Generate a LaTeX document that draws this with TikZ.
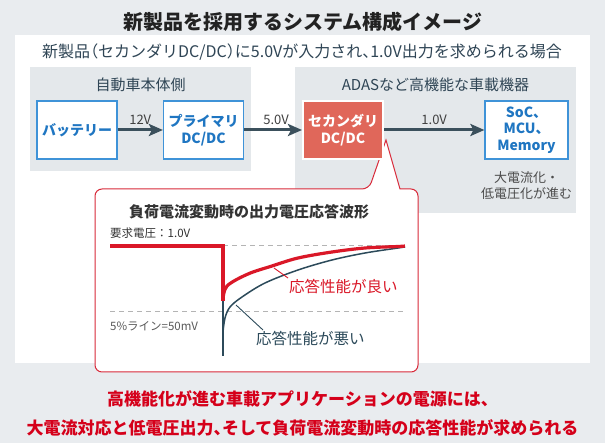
\documentclass[tikz,border=0pt]{standalone}
\usepackage{fontspec}
\setmainfont{Noto Sans CJK JP}
\newfontfamily\halfpunct[RawFeature=+halt]{Noto Sans CJK JP}
\usetikzlibrary{positioning,arrows.meta}

\definecolor{bggray}{HTML}{E9ECEF}
\definecolor{panelgray}{HTML}{E4E8EB}
\definecolor{titleblack}{HTML}{222222}
\definecolor{slatetext}{HTML}{2F4555}
\definecolor{boxblue}{HTML}{3F93D8}
\definecolor{textblue}{HTML}{1F76C2}
\definecolor{secred}{HTML}{E0675A}
\definecolor{callred}{HTML}{D82A3A}
\definecolor{curvered}{HTML}{DA1828}
\definecolor{curvedark}{HTML}{2C4A5A}
\definecolor{arrowslate}{HTML}{3B505C}
\definecolor{dashgray}{HTML}{B4B4B4}
\definecolor{bottomred}{HTML}{D5001A}

\newcommand{\hp}[1]{{\halfpunct #1}}

\tikzset{
  blubox/.style={draw=boxblue, line width=1.2pt, fill=white, text=textblue,
    font=\fontsize{14}{16.5}\selectfont\bfseries, align=center,
    minimum width=80pt, minimum height=58pt, inner sep=2pt},
  secbox/.style={blubox, draw=white, line width=2pt, fill=secred, text=white},
  paneltitle/.style={text=slatetext, font=\fontsize{15}{18}\selectfont},
  powarr/.style={->, draw=arrowslate, line width=3pt},
  vlabel/.style={midway, above=3pt, inner sep=1pt, text=black!75,
    font=\fontsize{13}{15}\selectfont},
  callout/.style={draw=callred, line width=1pt, fill=white},
  levelline/.style={draw=dashgray, line width=1pt, dash pattern=on 5pt off 4pt},
  smalltext/.style={anchor=west, inner sep=0pt, font=\fontsize{11.5}{13}\selectfont},
  resplbl/.style={inner sep=1pt, font=\fontsize{15.5}{18}\selectfont}
}

\begin{document}
\begin{tikzpicture}[x=1pt, y=-1pt, >={Stealth[length=14pt,width=12pt,inset=3pt]},
    on grid, line join=miter]
  \useasboundingbox[fill=bggray] (0,0) rectangle (605,443);

  % panels
  \fill[white] (15,35) rectangle (590,363);
  \fill[panelgray] (30,67) rectangle (251,171);
  \fill[panelgray] (295,67) rectangle (576,213);

  \node[font=\fontsize{20}{24}\selectfont\bfseries, text=titleblack] (title) at (302.5,22)
    {新製品を採用するシステム構成イメージ};
  \node[font=\fontsize{16}{19}\selectfont, text=slatetext] (subtitle) at (302,52)
    {新製品\hp{（}セカンダリDC/DC\hp{）}に5.0Vが入力され\hp{、}1.0V出力を求められる場合};
  \node[paneltitle] (cartitle) at (140.5,85) {自動車本体側};
  \node[paneltitle] (adastitle) at (435.5,85) {ADASなど高機能な車載機器};

  % callout with the response waveform
  \draw[callout] (400,189) [rounded corners=7pt] -- (418,189) -- (418,372) -- (95,372)
    -- (95,189) -- (369,189) [sharp corners] -- (386,140) -- cycle;
  \node[font=\fontsize{15}{18}\selectfont\bfseries, text=black!80] (wavetitle) at (249,212)
    {負荷電流変動時の出力電圧応答波形};
  \node[smalltext, text=black!80] (reqlbl) at (110,233) {要求電圧：1.0V};
  \node[smalltext, text=black!65] (linelbl) at (110,326) {5\%ライン=50mV};

  \draw[levelline] (223,246) -- (405,246);
  \draw[levelline] (110,312) -- (405,312);

  \draw[curvedark, line width=1.5pt] (223,300) -- (223,356);
  \draw[curvedark, line width=1.5pt] plot[smooth, tension=0.55] coordinates
    {(223,332) (225,318) (230,307) (242,297) (265,283) (298,270) (332,260) (365,253) (398,248) (405,247)};
  \draw[curvered, line width=3.5pt] (110,246) -- (223,246) -- (223,301);
  \draw[curvered, line width=3.2pt] plot[smooth, tension=0.55] coordinates
    {(223,300) (227,286) (248,274) (272,266) (298,258) (332,252) (365,248) (398,246.5) (405,246)};

  \node[resplbl, text=curvered, anchor=north west] (goodlbl) at (288,278) {応答性能が良い};
  \node[resplbl, text=curvedark, anchor=north west] (badlbl) at (255,330) {応答性能が悪い};
  \coordinate (goodpt) at (274,268);
  \coordinate (badpt) at (236,305);
  \draw[curvered, line width=0.9pt] (goodpt) -- (goodlbl.north west);
  \draw[curvedark, line width=0.9pt] (badpt) -- ([xshift=8pt]badlbl.north west);

  % power chain
  \node[blubox] (batt) at (77,130) {バッテリー};
  \node[blubox, right=126.5pt of batt] (prim) {プライマリ\\DC/DC};
  \node[secbox, right=139.5pt of prim] (sec) {セカンダリ\\DC/DC};
  \node[blubox, right=183.5pt of sec, minimum width=83pt] (soc) {SoC、\\MCU、\\Memory};
  \node[align=center, text=black!70, font=\fontsize{13}{15.5}\selectfont] (trend)
    at (526.5,185.5) {大電流化・\\低電圧化が進む};

  \draw[powarr] (batt) -- node[vlabel] {12V} (prim);
  \draw[powarr] (prim) -- node[vlabel, xshift=3pt] {5.0V} (sec);
  \draw[powarr] (sec) -- node[vlabel] {1.0V} (soc);

  % conclusion
  \node[align=center, text=bottomred, font=\fontsize{17}{29}\selectfont\bfseries] (concl)
    at (302.5,413.5)
    {高機能化が進む車載アプリケーションの電源には、\\
     大電流対応と低電圧出力\hp{、}そして負荷電流変動時の応答性能が求められる};
\end{tikzpicture}
\end{document}
